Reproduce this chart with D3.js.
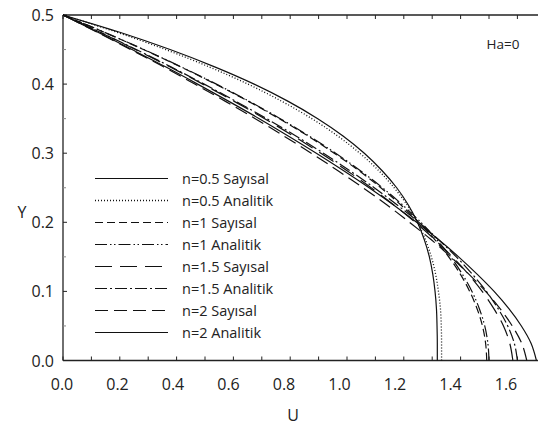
<!DOCTYPE html>
<html><head><meta charset="utf-8">
<script src="https://cdn.jsdelivr.net/npm/d3@7"></script>
<style>body{margin:0;background:#fff}svg{display:block}text{font-family:"Open Sans",sans-serif;fill:#222}</style>
</head><body><svg id="c" width="538" height="428"></svg>
<script>
const yVals = [0,0.025,0.05,0.075,0.1,0.125,0.15,0.175,0.2,0.225,0.25,0.275,0.3,0.325,0.35,0.375,0.4,0.425,0.45,0.475,0.5];
const n05Say = [1.318,1.318,1.317,1.315,1.310,1.302,1.290,1.272,1.248,1.216,1.175,1.123,1.061,0.986,0.897,0.793,0.673,0.534,0.377,0.200,0];
const n05Ana = [1.333,1.333,1.332,1.329,1.322,1.312,1.297,1.276,1.248,1.212,1.166,1.111,1.045,0.967,0.876,0.771,0.651,0.514,0.361,0.190,0];
const n1Say  = [1.492,1.488,1.477,1.458,1.432,1.399,1.358,1.309,1.253,1.190,1.119,1.041,0.955,0.862,0.761,0.653,0.537,0.414,0.283,0.145,0];
const n1Ana  = [1.500,1.496,1.485,1.466,1.440,1.406,1.365,1.316,1.260,1.196,1.125,1.046,0.960,0.866,0.765,0.656,0.540,0.416,0.285,0.146,0];
const n15Say = [1.584,1.573,1.551,1.517,1.476,1.427,1.371,1.309,1.240,1.165,1.085,0.999,0.908,0.811,0.710,0.603,0.492,0.376,0.255,0.130,0];
const n15Ana = [1.600,1.589,1.566,1.532,1.491,1.441,1.385,1.322,1.253,1.177,1.096,1.009,0.917,0.820,0.717,0.609,0.497,0.380,0.258,0.131,0];
const n2Say  = [1.633,1.615,1.582,1.539,1.488,1.429,1.365,1.296,1.220,1.141,1.056,0.967,0.874,0.777,0.677,0.572,0.464,0.354,0.238,0.121,0];
const n2Ana  = [1.667,1.648,1.614,1.570,1.518,1.458,1.393,1.322,1.245,1.164,1.078,0.987,0.892,0.793,0.691,0.584,0.474,0.361,0.243,0.123,0];
const seriesNames = ["n=0.5 Sayısal","n=0.5 Analitik","n=1 Sayısal","n=1 Analitik","n=1.5 Sayısal","n=1.5 Analitik","n=2 Sayısal","n=2 Analitik"];
const xTickLabels = ["0.0","0.2","0.4","0.6","0.8","1.0","1.2","1.4","1.6"];
const yTickLabels = ["0.0","0.1","0.2","0.3","0.4","0.5"];
const annotation = "Ha=0";

const seriesData = [n05Say,n05Ana,n1Say,n1Ana,n15Say,n15Ana,n2Say,n2Ana];
const dashes = ["none","1,2","8,4","12,3,1.5,2.5,1.5,3","17,8","12,3,2,3","13,6","none"];

const svg = d3.select("#c");
const L = 63, R = 538, T = 15, B = 360.5;
const x = d3.scaleLinear().domain([0, (R-L)/284]).range([L, R]);
const xLab = d3.scaleLinear().domain([0, 1.6]).range([62, 506]);
const y = d3.scaleLinear().domain([0, 0.5]).range([B, T]);

svg.append("defs").append("clipPath").attr("id","clip")
  .append("rect").attr("x",L).attr("y",T-2).attr("width",R-L).attr("height",B-T+4);

// axes
const minorX = d3.range(0, 1.7, 0.1);
const g = svg.append("g");
g.append("line").attr("x1",L).attr("x2",R).attr("y1",B).attr("y2",B).attr("stroke","#222").attr("stroke-width",1.3);
g.append("line").attr("x1",L).attr("x2",R).attr("y1",T).attr("y2",T).attr("stroke","#222").attr("stroke-width",1.3);
g.append("line").attr("x1",L).attr("x2",L).attr("y1",T).attr("y2",B).attr("stroke","#222").attr("stroke-width",1.3);
minorX.forEach(v=>{
  const px = x(v);
  if (px > R) return;
  g.append("line").attr("x1",px).attr("x2",px).attr("y1",B).attr("y2",B-4).attr("stroke","#222").attr("stroke-width",1);
  g.append("line").attr("x1",px).attr("x2",px).attr("y1",T).attr("y2",T+4).attr("stroke","#222").attr("stroke-width",1);
});
d3.range(0, 0.51, 0.05).forEach((v,i)=>{
  g.append("line").attr("x1",L).attr("x2",L+(i%2?3:4)).attr("y1",y(v)).attr("y2",y(v))
   .attr("stroke", i%2 ? "#888" : "#222").attr("stroke-width",1);
});
xTickLabels.forEach(t=>{
  svg.append("text").attr("x",xLab(+t)).attr("y",B+29).attr("text-anchor","middle").attr("font-size",16).text(t);
});
yTickLabels.forEach(t=>{
  svg.append("text").attr("x",L-9).attr("y",y(+t)+6).attr("text-anchor","end").attr("font-size",16).text(t);
});
svg.append("text").attr("x",293).attr("y",421).attr("text-anchor","middle").attr("font-size",16).text("U");
svg.append("text").attr("x",22).attr("y",218).attr("text-anchor","middle").attr("font-size",16).text("Y");
svg.append("text").attr("x",503).attr("y",49).attr("text-anchor","middle").attr("font-size",13.5).text(annotation);

// curves
const line = d3.line().x(d=>x(d[0])).y(d=>y(d[1])).curve(d3.curveMonotoneY);
const plot = svg.append("g").attr("clip-path","url(#clip)");
seriesData.forEach((s,i)=>{
  const pts = s.map((u,k)=>[u, yVals[k]]);
  plot.append("path").attr("d", line(pts)).attr("fill","none").attr("stroke","#111")
    .attr("stroke-width", i===1 ? 1.3 : 1.2).attr("stroke-dasharray", dashes[i]);
});

// legend
seriesNames.forEach((nm,i)=>{
  const yy = 178.5 + i*22;
  svg.append("line").attr("x1",95).attr("x2",168).attr("y1",yy).attr("y2",yy)
    .attr("stroke","#111").attr("stroke-width",i===1?1.3:1.2).attr("stroke-dasharray",dashes[i]);
  svg.append("text").attr("x",182).attr("y",yy+5).attr("font-size",14.5).text(nm);
});
</script></body></html>
